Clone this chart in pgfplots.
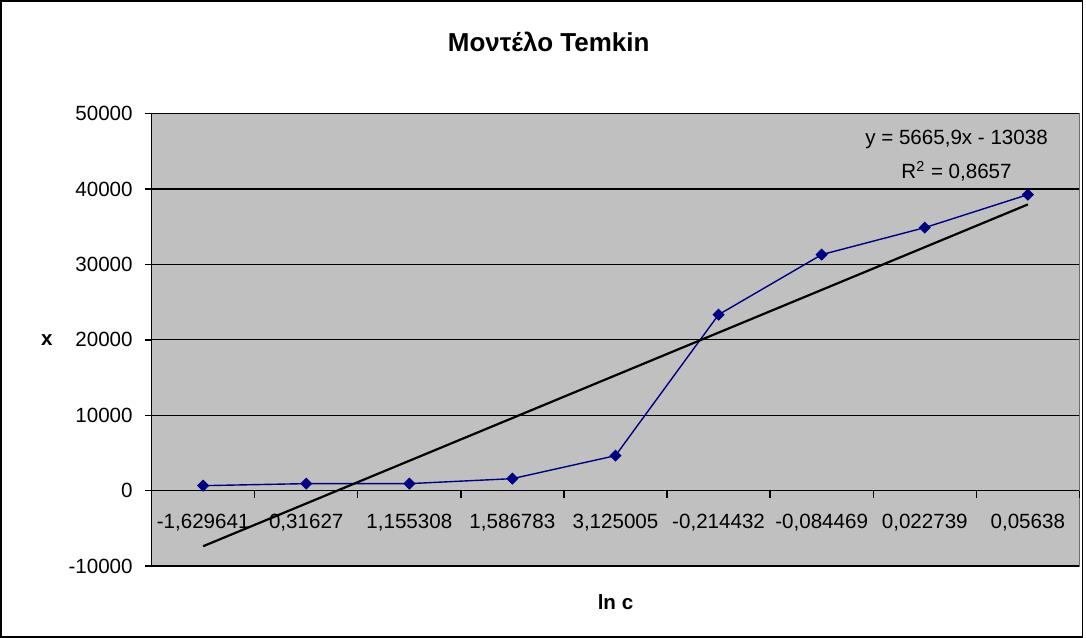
\documentclass[border=0pt]{standalone}
\usepackage{pgfplots}
\pgfplotsset{compat=1.18}
\usepackage{fontspec}
\setmainfont{Liberation Sans}
\definecolor{plotgray}{HTML}{C0C0C0}
\definecolor{navy}{HTML}{000080}
\newcommand{\lbl}{\fontsize{10.3bp}{12bp}\selectfont}
\begin{document}
\begin{tikzpicture}
\begin{axis}[
  scale only axis, width=464.5bp, height=226.5bp,
  xmin=0.5, xmax=9.5, ymin=-10000, ymax=50000,
  axis y line*=left, axis x line*=middle,
  axis line style={black, line width=0.8bp, -},
  axis background/.style={fill=plotgray, draw=gray!85!black, line width=0.7bp},
  tick align=outside, major tick length=3.5bp,
  tick style={black, line width=0.7bp},
  scaled y ticks=false,
  ytick={-10000,0,10000,20000,30000,40000,50000},
  yticklabels={-10000,0,10000,20000,30000,40000,50000},
  xtick={1.5,2.5,...,9.5}, xticklabels={},
  extra x ticks={1,2,3,4,5,6,7,8,9},
  extra x tick labels={{-1,629641},{0,31627},{1,155308},{1,586783},{3,125005},{-0,214432},{-0,084469},{0,022739},{0,05638}},
  extra x tick style={major tick length=0pt, grid=none},
  tick label style={font=\lbl},
  xticklabel style={anchor=base, yshift=-19bp},
  yticklabel style={anchor=east, xshift=-2.5bp},
  ymajorgrids, grid style={black, line width=0.6bp},
  clip=false,
]
% data series
\addplot[navy, line width=0.7bp, mark=square*, mark size=1.8bp, mark options={fill=navy, draw=navy, rotate=45}]
  coordinates {(1,660) (2,930) (3,930) (4,1590) (5,4640) (6,23340) (7,31300) (8,34880) (9,39260)};
% linear trendline
\addplot[black, line width=1.1bp] coordinates {(1,-7372.1) (9,37955.1)};
\node[font=\bfseries\fontsize{13bp}{15bp}\selectfont] at (rel axis cs:0.428,1.159) {Μοντέλο Temkin};
\node[font=\bfseries\lbl] at (rel axis cs:-0.113,0.5) {x};
\node[font=\bfseries\lbl] at (rel axis cs:0.5,-0.0795) {ln c};
\node[font=\lbl] at (rel axis cs:0.8676,0.9426) {y = 5665,9x - 13038};
\node[font=\lbl] at (rel axis cs:0.8676,0.872) {R\textsuperscript{2} = 0,8657};
\end{axis}
\draw[black, line width=0.8bp] ([shift={(-75.5bp,-35.5bp)}]current axis.south west) rectangle ([shift={(1.5bp,56.5bp)}]current axis.north east);
\end{tikzpicture}
\end{document}
